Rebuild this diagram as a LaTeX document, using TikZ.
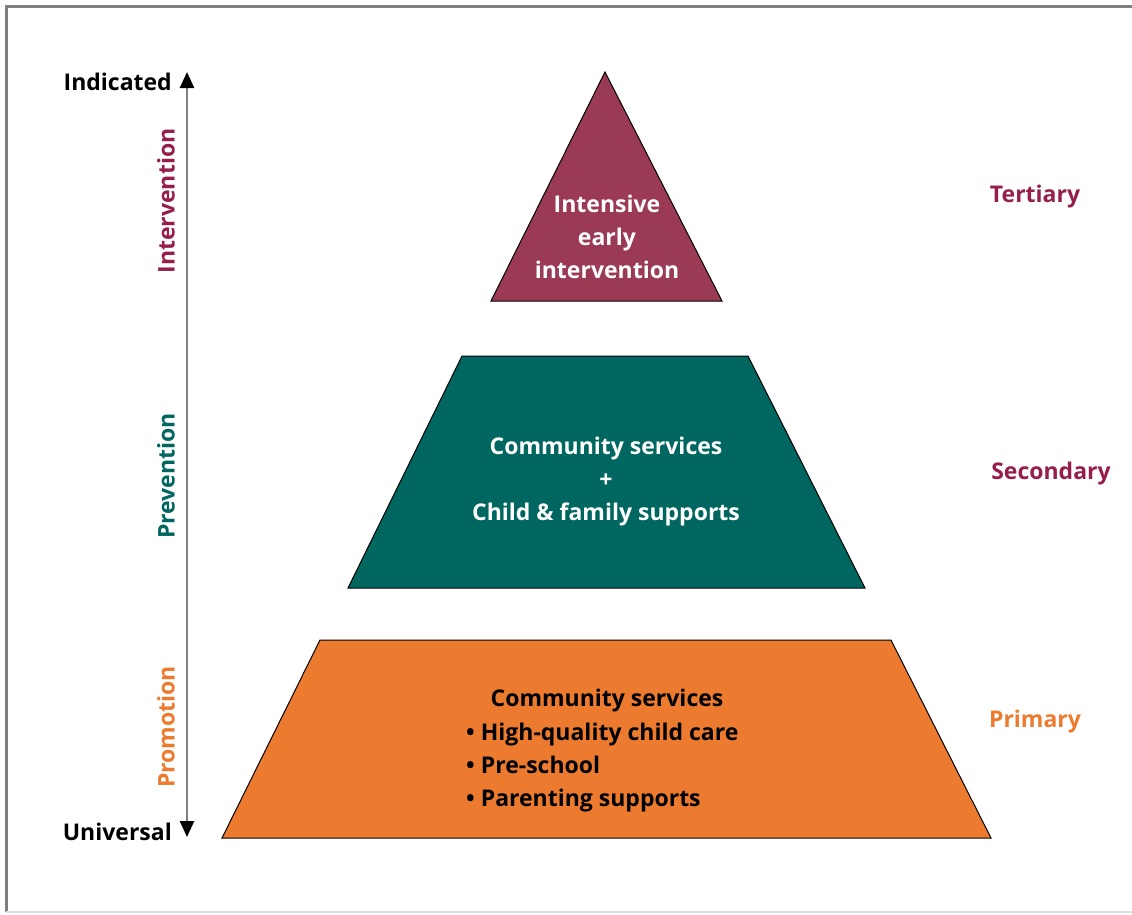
\documentclass[tikz,border=0pt]{standalone}
\usepackage{fontspec}
\setmainfont{Open Sans}
\usetikzlibrary{arrows.meta,positioning}

\definecolor{maroon}{RGB}{155,58,85}
\definecolor{maroontext}{RGB}{150,30,75}
\definecolor{teal}{RGB}{0,102,96}
\definecolor{orange}{RGB}{236,123,48}

\begin{document}
\begin{tikzpicture}[x=1pt,y=-1pt,
        lbl/.style={font=\fontsize{23}{33}\selectfont\bfseries},
        inner/.style={lbl,align=center,inner sep=0pt},
        side/.style={lbl,rotate=90,inner sep=0pt}]
        \useasboundingbox (0,0) rectangle (1132,914);

        % Frame
        \draw[color=gray,line width=3pt] (6,912) -- (6,6) -- (1132,6);
        \draw[color=gray!25,line width=1.5pt] (6,912) -- (1132,912);

        % Levels
        \draw[fill=maroon,line width=1pt] (605,72) -- (722,301) -- (491,301) -- cycle;
        \draw[fill=teal,line width=1pt] (462,356) -- (748,356) -- (865,588) -- (348,588) -- cycle;
        \draw[fill=orange,line width=1pt] (320,640) -- (891,640) -- (991,838) -- (222,838) -- cycle;

        \node[inner,white] (tri) at (607,237) {Intensive\\early\\intervention};
        \node[inner,white] (mid) at (606,482) {Community services\\+\\Child \& family supports};
        \node[inner,black] (base) at (607,701) {Community services};
        \node[inner,black,align=left,anchor=west] (list) at (466,768)
            {\textbullet\ High-quality child care\\\textbullet\ Pre-school\\\textbullet\ Parenting supports};

        % Right labels
        \node[lbl,color=maroontext] (tertiary) at (1035,197) {Tertiary};
        \node[lbl,color=maroontext] (secondary) at (1051,474) {Secondary};
        \node[lbl,color=orange] (primary) at (1035,722) {Primary};

        % Axis
        \node[lbl,anchor=east,inner sep=0pt] (indicated) at (172,82) {Indicated};
        \node[lbl,anchor=east,inner sep=0pt] (universal) at (172,832) {Universal};
        \coordinate (top) at (187,72);
        \coordinate (bottom) at (187,837);
        \draw[color=gray,line width=2.5pt,
            {Triangle[width=14pt,length=16pt,black]}-{Triangle[width=14pt,length=16pt,black]}]
            (top) -- (bottom);

        \node[side,color=maroontext] (intervention) at (166,201) {Intervention};
        \node[side,color=teal] (prevention) at (166,476) {Prevention};
        \node[side,color=orange] (promotion) at (166,727) {Promotion};

    \end{tikzpicture}
\end{document}
